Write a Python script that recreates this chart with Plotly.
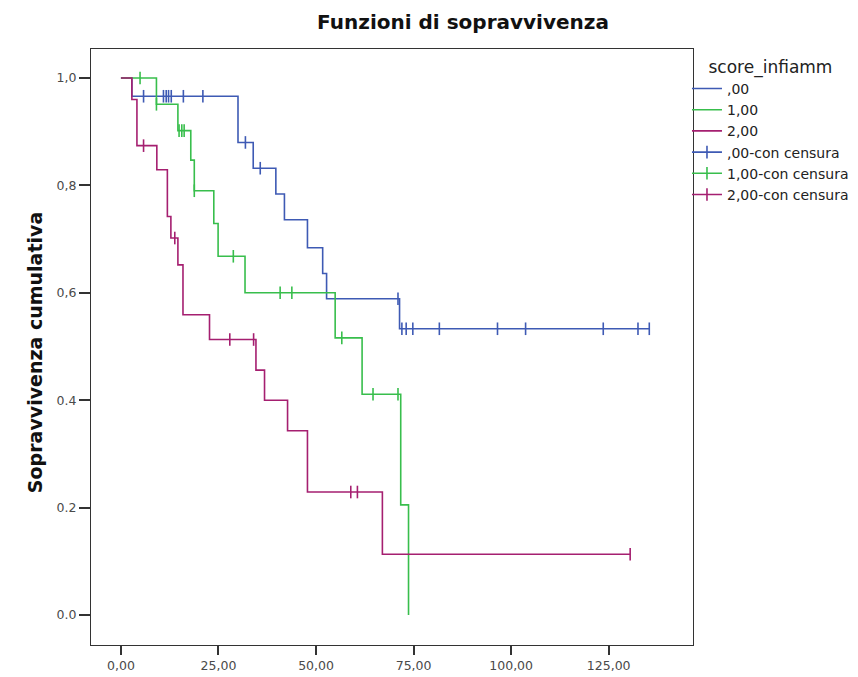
import plotly.graph_objects as go

# ---- data ----
groups = [",00", "1,00", "2,00"]
colors = ["#3E5AB4", "#38BE4C", "#A51F70"]

# step points: time of each drop and survival after it
blue_t = [0, 2.8, 30.0, 33.9, 39.7, 41.9, 47.8, 51.7, 52.7, 71.4, 135.4]
blue_s = [1.0, 0.966, 0.880, 0.832, 0.784, 0.736, 0.684, 0.636, 0.589, 0.533, 0.533]
blue_cens = [5.8, 10.9, 11.6, 12.2, 12.9, 16.0, 21.0, 31.9, 35.7, 71.0,
             72.0, 73.1, 74.8, 81.6, 96.5, 103.7, 123.6, 132.5, 135.4]

green_t = [0, 9.1, 14.6, 17.9, 18.8, 23.8, 24.9, 31.8, 54.9, 61.8, 71.7, 73.7]
green_s = [1.0, 0.951, 0.902, 0.847, 0.790, 0.729, 0.668, 0.600, 0.516, 0.411, 0.205, 0.0]
green_cens = [4.9, 9.1, 14.9, 15.6, 16.2, 18.8, 28.8, 40.8, 43.8, 56.6, 64.6, 71.0]

pink_t = [0, 2.8, 4.1, 9.2, 11.9, 12.8, 14.6, 15.9, 22.7, 34.6, 36.8, 42.7, 47.8, 67.0, 130.5]
pink_s = [1.0, 0.960, 0.874, 0.829, 0.742, 0.702, 0.652, 0.559, 0.513, 0.456, 0.400,
          0.343, 0.229, 0.113, 0.113]
pink_cens = [5.8, 13.8, 27.9, 34.0, 58.9, 60.6, 130.5]

x_tickvals = [0, 25, 50, 75, 100, 125]
x_ticktext = ["0,00", "25,00", "50,00", "75,00", "100,00", "125,00"]
y_tickvals = [0.0, 0.2, 0.4, 0.6, 0.8, 1.0]
y_ticktext = ["0.0", "0.2", "0.4", "0,6", "0,8", "1,0"]

series = [(blue_t, blue_s, blue_cens), (green_t, green_s, green_cens), (pink_t, pink_s, pink_cens)]


def surv_at(ts, ss, c):
    val = ss[0]
    for t, s in zip(ts, ss):
        if t <= c:
            val = s
    return val


FONT = "DejaVu Sans, sans-serif"
fig = go.Figure()

for (ts, ss, _), name, col in zip(series, groups, colors):
    fig.add_trace(go.Scatter(
        x=ts, y=ss, mode="lines", name=name,
        line=dict(color=col, width=1.6, shape="hv"),
    ))

for (ts, ss, cens), name, col in zip(series, groups, colors):
    xs, ys = [], []
    for c in cens:
        xs += [c, None]
        ys += [surv_at(ts, ss, c), None]
    fig.add_trace(go.Scatter(
        x=xs, y=ys, mode="lines+markers", name=name + "-con censura",
        connectgaps=False,
        line=dict(color=col, width=1.6),
        marker=dict(symbol="line-ns", size=9, line=dict(color=col, width=1.6)),
    ))

axis_common = dict(
    showline=True, linecolor="#333333", linewidth=1, mirror=True,
    showgrid=False, zeroline=False, ticks="outside",
    tickcolor="#333333", tickwidth=1.5,
    tickfont=dict(family=FONT, size=12.5, color="#4a4a4a"),
)

fig.update_xaxes(range=[-7.67, 146.6], tickvals=x_tickvals, ticktext=x_ticktext,
                 ticklen=9, **axis_common)
fig.update_yaxes(range=[-0.0559, 1.054], tickvals=y_tickvals, ticktext=y_ticktext,
                 ticklen=11, **axis_common)

fig.add_annotation(
    text="<b>Sopravvivenza cumulativa</b>", textangle=-90,
    xref="paper", yref="paper", x=(27 - 83) / 604, y=0.49,
    xanchor="center", yanchor="middle", showarrow=False,
    font=dict(family=FONT, size=19, color="#111111"),
)

fig.update_layout(
    width=858, height=677,
    margin=dict(l=83, r=171, t=41, b=30),
    plot_bgcolor="white", paper_bgcolor="white",
    title=dict(text="<b>Funzioni di sopravvivenza</b>", x=455 / 858, xanchor="center",
               y=1 - 14 / 677, yanchor="middle",
               font=dict(family=FONT, size=20, color="#111111")),
    legend=dict(
        x=0.990, xanchor="left", y=0.997, yanchor="top",
        title=dict(text="score_infiamm", side="top center",
                   font=dict(family=FONT, size=17, color="#222222")),
        font=dict(family=FONT, size=14, color="#222222"),
        bgcolor="rgba(0,0,0,0)", borderwidth=0, tracegroupgap=0, itemwidth=30,
    ),
)

fig.write_html("out.html")
